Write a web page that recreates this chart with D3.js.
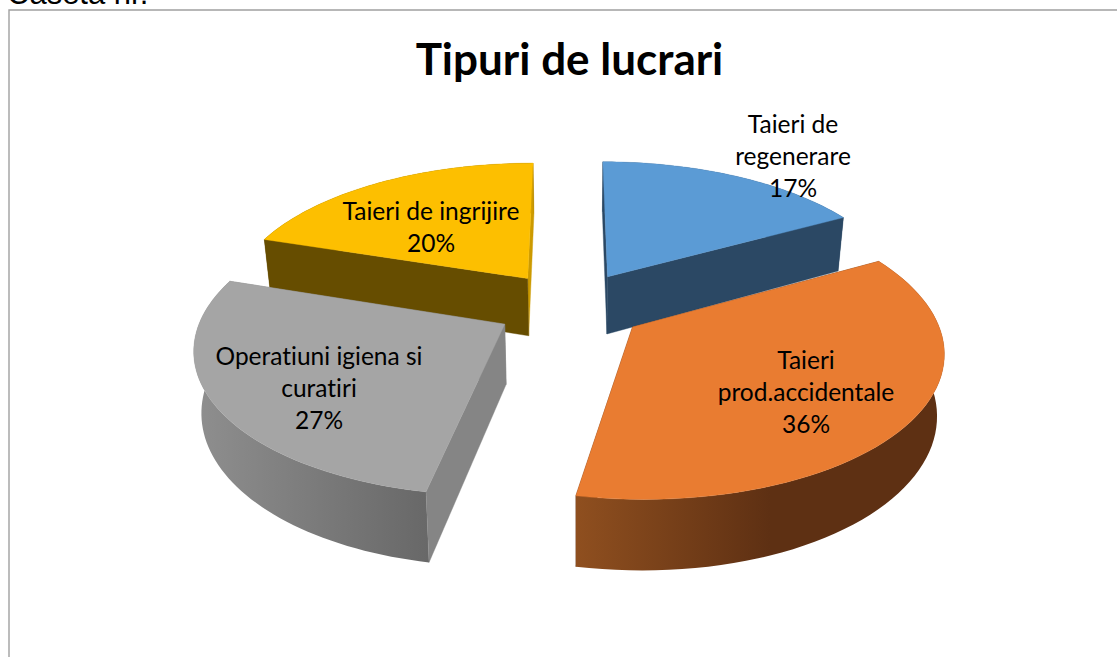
<!DOCTYPE html>
<html>
<head>
<meta charset="utf-8">
<title>Tipuri de lucrari</title>
<script src="https://cdn.jsdelivr.net/npm/d3@7"></script>
<style>
  html, body { margin: 0; padding: 0; background: #fff; overflow: hidden; }
  text { font-family: Lato, sans-serif; fill: #000; font-variant-ligatures: none; }
</style>
</head>
<body>
<svg id="chart" width="1117" height="657"></svg>
<script>
const categories = ["Taieri de regenerare", "Taieri prod.accidentale", "Operatiuni igiena si curatiri", "Taieri de ingrijire"];
const values = [17, 36, 27, 20];
const labelLines = [["Taieri de", "regenerare", "17%"], ["Taieri", "prod.accidentale", "36%"], ["Operatiuni igiena si", "curatiri", "27%"], ["Taieri de ingrijire", "20%"]];
const labelCenters = [[793, 157], [806, 393], [319, 389], [431, 228]];
const topColors = ["#5b9bd5", "#e97c31", "#a5a5a5", "#fdbf00"];
const wallStart = ["#2b4864", "#5e3013", "#858585", "#664d00"];
const wallEnd = ["#2b4864", "#5e3013", "#858585", "#cc9a00"];
const drawOrder = [0, 3, 2, 1];

const svg = d3.select("#chart");
const defs = svg.append("defs");

// bevel shading on the round walls, from the picture
[["arc1", 576, 770, "#8f4f1f", "#5e3013"], ["arc2", 200, 428, "#8e8e8e", "#686868"]].forEach(g => {
  const lg = defs.append("linearGradient")
    .attr("id", g[0])
    .attr("gradientUnits", "userSpaceOnUse")
    .attr("x1", g[1]).attr("x2", g[2]).attr("y1", 0).attr("y2", 0);
  lg.append("stop").attr("offset", 0).attr("stop-color", g[3]);
  lg.append("stop").attr("offset", 1).attr("stop-color", g[4]);
});

// frame of the embedded chart
svg.append("path")
  .attr("d", "M9,657V10H1117")
  .attr("fill", "none")
  .attr("stroke", "#a0a0a0")
  .attr("stroke-width", 1.4);

svg.append("text")
  .attr("x", 7).attr("y", 4)
  .style("font-family", "Liberation Sans")
  .style("font-size", "31px")
  .text("Caseta nr.");

svg.append("text")
  .attr("x", 569.5).attr("y", 75)
  .attr("text-anchor", "middle")
  .style("font-size", "44px")
  .style("font-weight", 700)
  .text("Tipuri de lucrari");

// perspective projection of the tilted disc, z = 0 top face, z = 1 bottom face
const cx = 570.5, cy = 306, scaleX = 300, scaleY = 140, persp = 0.148, depth = 59, explode = 0.25;
const proj = (X, Y, z) => {
  const w = 1 + persp * Y;
  const sx = 578 + (cx + scaleX * X / w - 578) * (1 - 0.02 * z);
  return [sx, cy - scaleY * Y / w + depth * z / w];
};

const pie = d3.pie().sort(null).value(d => d);
const arcs = pie(values);
const line = d3.line();

drawOrder.forEach(i => {
  const a = arcs[i];
  const mid = (a.startAngle + a.endAngle) / 2;
  const ox = explode * Math.sin(mid), oy = explode * Math.cos(mid);
  const rim = t => [ox + Math.sin(t), oy + Math.cos(t)];
  const angles = d3.range(61).map(k => a.startAngle + (a.endAngle - a.startAngle) * k / 60);
  const apex = [ox, oy];
  const pts = angles.map(rim);
  const g = svg.append("g").attr("class", "slice");

  const face = (p, q, fill) => g.append("path")
    .attr("d", line([proj(p[0], p[1], 0), proj(q[0], q[1], 0), proj(q[0], q[1], 1), proj(p[0], p[1], 1)]) + "Z")
    .attr("fill", fill).attr("stroke", fill).attr("stroke-width", 0.4);

  const first = pts[0], last = pts[60];
  const curved = () => g.append("path")
    .attr("d", line(pts.map(p => proj(p[0], p[1], 0)).concat(pts.slice().reverse().map(p => proj(p[0], p[1], 1)))) + "Z")
    .attr("fill", i === 1 ? "url(#arc1)" : i === 2 ? "url(#arc2)" : wallStart[i]);

  // back faces first
  if (i === 0) { face(apex, first, wallStart[i]); curved(); face(apex, last, wallEnd[i]); }
  else if (i === 1) { face(apex, first, wallStart[i]); face(apex, last, wallEnd[i]); curved(); }
  else if (i === 2) { face(apex, last, wallEnd[i]); curved(); face(apex, first, wallStart[i]); }
  else { curved(); face(apex, last, wallEnd[i]); face(apex, first, wallStart[i]); }

  g.append("path")
    .attr("d", line([proj(apex[0], apex[1], 0)].concat(pts.map(p => proj(p[0], p[1], 0)))) + "Z")
    .attr("fill", topColors[i]).attr("stroke", topColors[i]).attr("stroke-width", 0.4);
});

// labels go over every slice
labelLines.forEach((lines, i) => {
  const t = svg.append("text")
    .attr("text-anchor", "middle")
    .attr("aria-label", categories[i])
    .style("font-size", "24.5px");
  lines.forEach((s, k) => {
    t.append("tspan")
      .attr("x", labelCenters[i][0])
      .attr("y", labelCenters[i][1] - (lines.length - 1) * 16 + k * 32 + 8)
      .text(s);
  });
});
</script>
</body>
</html>
